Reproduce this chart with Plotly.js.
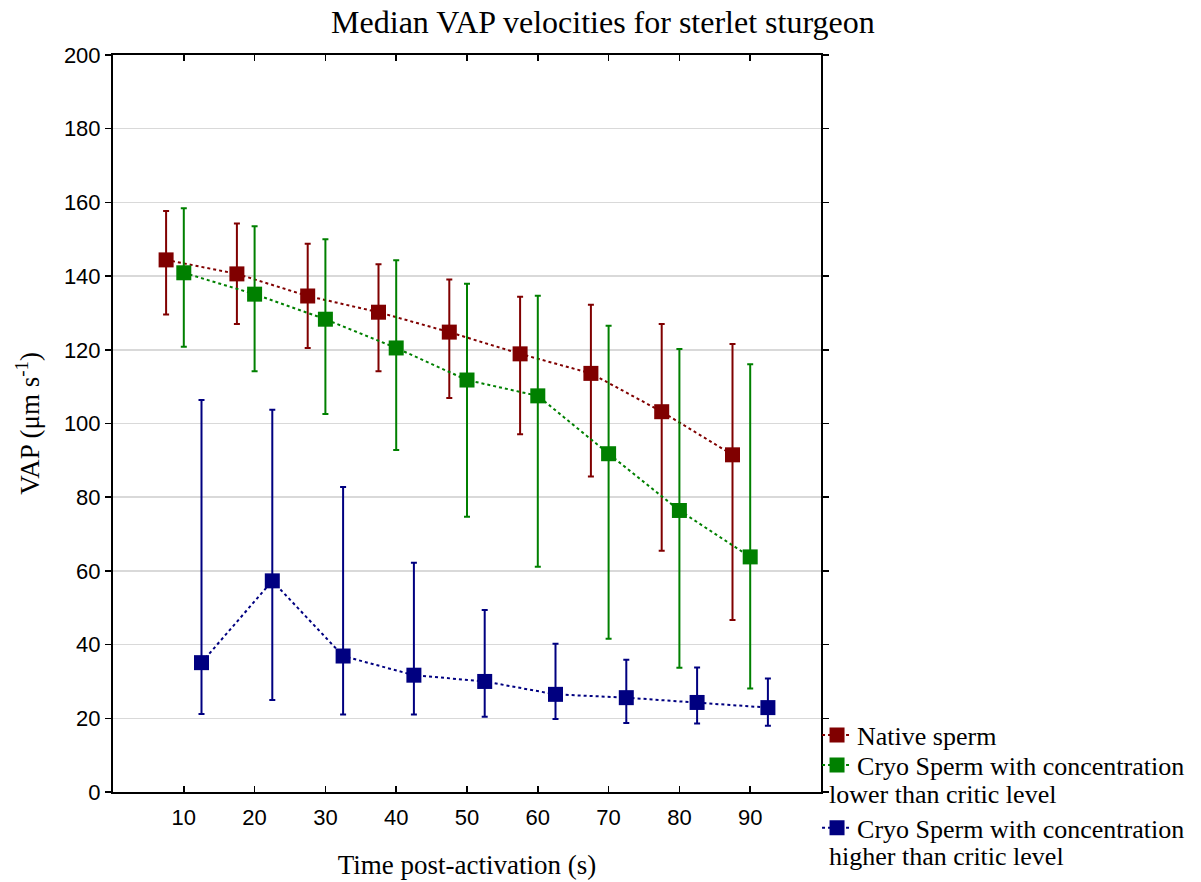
<!DOCTYPE html>
<html>
<head>
<meta charset="utf-8">
<script src="https://cdn.plot.ly/plotly-3.0.1.min.js"></script>
<style>body{margin:0;background:#fff}#chart{width:1201px;height:882px}</style>
</head>
<body>
<div id="chart"></div>
<script>
// Data
const nativeX = [7.5, 17.5, 27.5, 37.5, 47.5, 57.5, 67.5, 77.5, 87.5];
const nativeY = [144.4, 140.6, 134.6, 130.2, 124.8, 118.9, 113.6, 103.2, 91.5];
const nativeHi = [157.7, 154.3, 148.8, 143.2, 139.1, 134.4, 132.2, 127.0, 121.6];
const nativeLo = [129.6, 127.0, 120.5, 114.2, 106.9, 97.1, 85.6, 65.5, 46.7];

const cryoLowX = [10, 20, 30, 40, 50, 60, 70, 80, 90];
const cryoLowY = [140.9, 135.1, 128.3, 120.5, 111.8, 107.5, 91.8, 76.4, 63.8];
const cryoLowHi = [158.4, 153.5, 150.0, 144.3, 137.9, 134.7, 126.5, 120.2, 116.1];
const cryoLowLo = [120.8, 114.2, 102.6, 92.8, 74.7, 61.1, 41.6, 33.7, 28.1];

const cryoHighX = [12.5, 22.5, 32.5, 42.5, 52.5, 62.5, 72.5, 82.5, 92.5];
const cryoHighY = [35.1, 57.3, 36.9, 31.7, 30.0, 26.5, 25.6, 24.3, 22.9];
const cryoHighHi = [106.4, 103.7, 82.8, 62.2, 49.4, 40.2, 35.9, 33.8, 30.8];
const cryoHighLo = [21.2, 25.0, 21.0, 21.0, 20.4, 19.8, 18.7, 18.6, 18.0];

const xTicks = [10, 20, 30, 40, 50, 60, 70, 80, 90];

const seriesNames = ['Native sperm', 'Cryo Sperm with concentration', 'Cryo Sperm with concentration'];
const nameContinuations = ['lower than critic level', 'higher than critic level'];

const serif = 'Liberation Serif, Times New Roman, serif';
const sans = 'Liberation Sans, Arial, sans-serif';

function mk(x, y, hi, lo, name, color, legendId) {
  return {
    type: 'scatter', mode: 'lines+markers', name: name, legend: legendId,
    x: x, y: y,
    line: {color: color, width: 2, dash: 'dot'},
    marker: {symbol: 'square', size: 15, color: color},
    error_y: {
      type: 'data', symmetric: false,
      array: y.map((v, i) => hi[i] - v),
      arrayminus: y.map((v, i) => v - lo[i]),
      color: color, thickness: 2, width: 3
    }
  };
}

const data = [
  mk(nativeX, nativeY, nativeHi, nativeLo, seriesNames[0], '#800000', 'legend'),
  mk(cryoLowX, cryoLowY, cryoLowHi, cryoLowLo, seriesNames[1], '#008000', 'legend2'),
  mk(cryoHighX, cryoHighY, cryoHighHi, cryoHighLo, seriesNames[2], '#000080', 'legend3')
];

const legFont = {family: serif, size: 26, color: '#000'};
function leg(y) {
  return {x: 0.993, xanchor: 'left', y: y, yanchor: 'middle',
          bgcolor: 'rgba(0,0,0,0)', itemwidth: 30, font: legFont};
}

const layout = {
  width: 1201, height: 882,
  paper_bgcolor: '#fff', plot_bgcolor: '#fff',
  margin: {l: 113, r: 379, t: 55, b: 90},
  title: {text: 'Median VAP velocities for sterlet sturgeon', x: 0.502, xref: 'container', xanchor: 'center',
          y: 0.975, yanchor: 'middle',
          font: {family: serif, size: 32, color: '#000'}},
  xaxis: {
    range: [0, 100], tickvals: xTicks, ticktext: xTicks.map(String),
    ticks: 'inside', ticklen: 6, tickwidth: 1.5, tickcolor: '#000',
    showline: true, linecolor: '#000', linewidth: 2, mirror: 'ticks',
    showgrid: false, zeroline: false, ticklabelstandoff: 5,
    tickfont: {family: sans, size: 22, color: '#000'},
    title: {text: 'Time post-activation (s)', standoff: 26,
            font: {family: serif, size: 27, color: '#000'}}
  },
  yaxis: {
    range: [0, 200], dtick: 20,
    ticks: 'outside', ticklen: 6, tickwidth: 1.5, tickcolor: '#000',
    showline: true, linecolor: '#000', linewidth: 2, mirror: 'ticks',
    showgrid: true, gridcolor: '#d9d9d9', gridwidth: 1.5, zeroline: false,
    tickfont: {family: sans, size: 22, color: '#000'},
    title: {text: 'VAP (μm s<sup>-1</sup>)', standoff: 16,
            font: {family: serif, size: 27, color: '#000'}}
  },
  showlegend: true,
  legend: leg(0.0773),
  legend2: leg(0.0366),
  legend3: leg(-0.0488),
  annotations: [
    {text: nameContinuations[0], xref: 'paper', yref: 'paper', x: 1.0085, y: -0.004,
     xanchor: 'left', yanchor: 'middle', showarrow: false, font: legFont},
    {text: nameContinuations[1], xref: 'paper', yref: 'paper', x: 1.0085, y: -0.088,
     xanchor: 'left', yanchor: 'middle', showarrow: false, font: legFont}
  ]
};

Plotly.newPlot('chart', data, layout, {displayModeBar: false, staticPlot: true});
</script>
</body>
</html>
